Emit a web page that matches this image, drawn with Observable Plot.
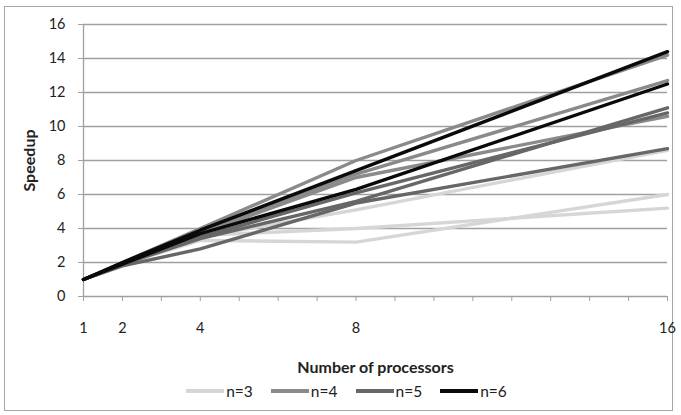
<!DOCTYPE html>
<html>
<head>
<meta charset="utf-8">
<script src="https://cdn.jsdelivr.net/npm/d3@7"></script>
<script src="https://cdn.jsdelivr.net/npm/@observablehq/plot@0.6"></script>
<style>
  html, body { margin: 0; padding: 0; background: #fff; }
  body { width: 681px; height: 415px; position: relative; overflow: hidden; font-family: Lato, "Open Sans", sans-serif; }
  #frame { position: absolute; left: 4px; top: 6px; width: 669px; height: 405px; border: 1px solid #a6a6a6; box-sizing: border-box; }
  #chart { position: absolute; left: 0; top: 0; }
  #legend { position: absolute; left: 0; top: 380px; width: 681px; height: 22px; display: flex; justify-content: center; align-items: center; font-size: 15.5px; color: #222; padding-left: 12px; box-sizing: border-box; }
  .item { display: flex; align-items: center; margin: 0 9px; }
  .sw { width: 38px; height: 4px; margin-right: 2px; }
  g[aria-label="x-axis label"] text, g[aria-label="y-axis label"] text { font-weight: bold; font-size: 16px; }
</style>
</head>
<body>
<div id="frame"></div>
<div id="chart"></div>
<div id="legend"></div>
<script>
// Number of processors
const processors = [1, 2, 4, 8, 16];
const xTickLabels = [1, 2, 4, 8, 16];
const yTicks = [0, 2, 4, 6, 8, 10, 12, 14, 16];
const seriesNames = ["n=3", "n=4", "n=5", "n=6"];
const seriesColors = ["#d6d6d6", "#8a8a8a", "#676767", "#0a0a0a"];

// Speedup runs for each n (values at 1, 2, 4, 8, 16 processors)
const n3Runs = [
  [1, 1.9, 3.5, 5.1, 8.6],
  [1, 1.9, 3.6, 4.0, 5.2],
  [1, 1.9, 3.3, 3.2, 6.0]
];
const n4Runs = [
  [1, 2.0, 4.0, 8.0, 14.2],
  [1, 1.9, 3.8, 7.2, 12.7],
  [1, 1.9, 3.7, 7.0, 10.6]
];
const n5Runs = [
  [1, 1.8, 2.8, 5.5, 8.7],
  [1, 1.9, 3.4, 5.6, 11.1],
  [1, 1.9, 3.5, 6.1, 10.8]
];
const n6Runs = [
  [1, 2.0, 3.9, 7.4, 14.4],
  [1, 1.9, 3.7, 6.3, 12.5]
];

const allRuns = [n3Runs, n4Runs, n5Runs, n6Runs];
const rows = [];
allRuns.forEach((runs, si) => {
  runs.forEach((vals, ri) => {
    vals.forEach((v, i) => rows.push({n: seriesNames[si], run: seriesNames[si] + "-" + ri, p: processors[i], s: v}));
  });
});

const chart = Plot.plot({
  width: 681,
  height: 378,
  marginLeft: 83,
  marginRight: 14,
  marginTop: 24,
  marginBottom: 82,
  style: { fontFamily: "Lato, 'Open Sans', sans-serif", fontSize: "14px", color: "#222", background: "transparent" },
  x: { domain: [1, 16] },
  y: { domain: [0, 16] },
  color: { domain: seriesNames, range: seriesColors },
  marks: [
    Plot.gridY(yTicks, { stroke: "#a0a0a0", strokeOpacity: 1, strokeWidth: 1.3 }),
    Plot.ruleX([1], { stroke: "#a0a0a0", strokeWidth: 1.3 }),
    Plot.axisY(yTicks, {
      tickSize: 5, tickPadding: 13, stroke: "#a0a0a0",
      label: "Speedup", labelAnchor: "center", labelArrow: "none", labelOffset: 60, fontSize: 14.5
    }),
    Plot.axisX(d3.range(1, 17), {
      tickSize: 5, tickPadding: 21, stroke: "#a0a0a0",
      tickFormat: d => xTickLabels.includes(d) ? String(d) : "",
      label: "Number of processors", labelAnchor: "center", labelArrow: "none", labelOffset: 76, fontSize: 14.5
    }),
    Plot.line(rows, { x: "p", y: "s", z: "run", stroke: "n", strokeWidth: 3.4, strokeLinejoin: "round" })
  ]
});
document.getElementById("chart").appendChild(chart);

const legend = document.getElementById("legend");
seriesNames.forEach((name, i) => {
  const item = document.createElement("div");
  item.className = "item";
  const sw = document.createElement("div");
  sw.className = "sw";
  sw.style.background = seriesColors[i];
  const t = document.createElement("span");
  t.textContent = name;
  item.appendChild(sw);
  item.appendChild(t);
  legend.appendChild(item);
});
</script>
</body>
</html>
